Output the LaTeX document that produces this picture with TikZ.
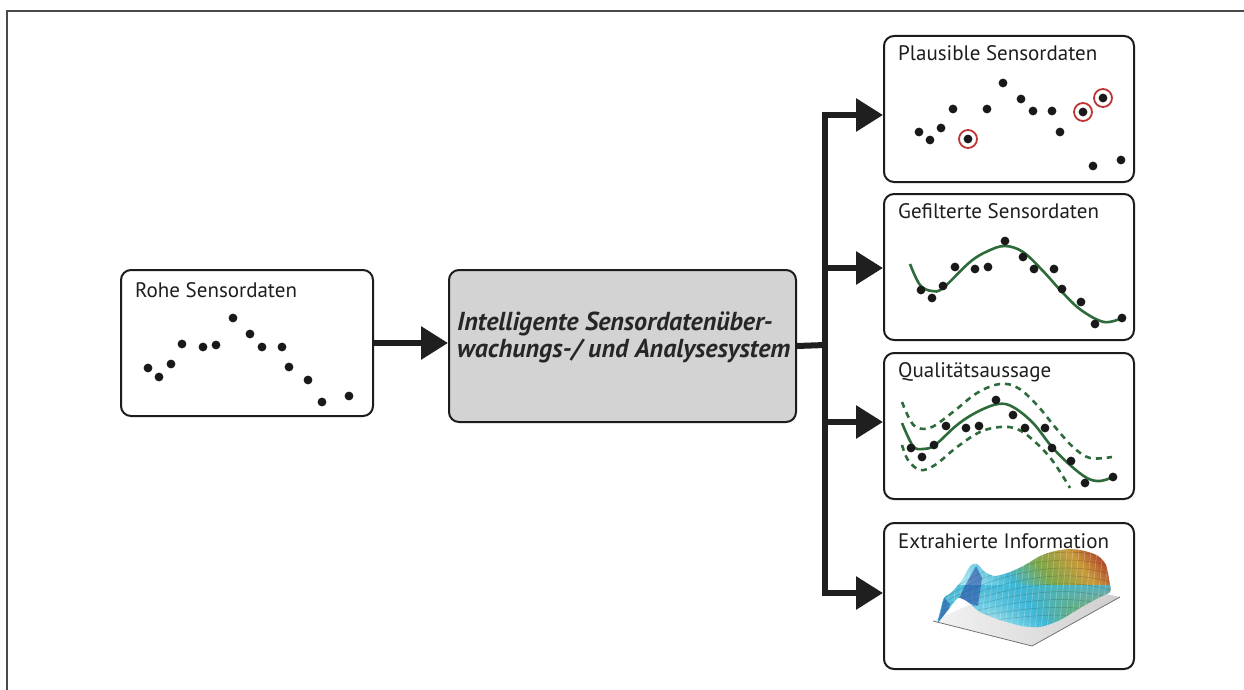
\documentclass[tikz,border=0pt]{standalone}
\usepackage{fontspec}
\usetikzlibrary{arrows.meta,calc,fadings}
\newfontfamily\lab{PT Sans}
\definecolor{boxline}{HTML}{1C1C1C}
\definecolor{txt}{HTML}{1E1E1E}
\definecolor{ctrfill}{HTML}{D3D3D3}
\definecolor{ctrtxt}{HTML}{262626}
\definecolor{fitgreen}{HTML}{2E6B3B}
\definecolor{ringred}{HTML}{BE3535}
\definecolor{frameline}{HTML}{4A4A4A}
\definecolor{sblue}{HTML}{1F3FA0}
\definecolor{scyan}{HTML}{3FB7D6}
\definecolor{slcyan}{HTML}{A8E6F0}
\definecolor{sgreen}{HTML}{7FA84A}
\definecolor{syellow}{HTML}{C99A3A}
\definecolor{sred}{HTML}{A82226}
\pgfdeclarehorizontalshading{surfcol}{100bp}{color(0bp)=(sblue); color(14bp)=(scyan); color(34bp)=(slcyan); color(48bp)=(scyan); color(60bp)=(sgreen); color(72bp)=(syellow); color(84bp)=(sred); color(100bp)=(sred)}
\begin{document}
\begin{tikzpicture}[x=1pt,y=-1pt,
  box/.style={draw=boxline, line width=2pt, rounded corners=10pt, fill=white, inner sep=0pt, anchor=north west},
  ttl/.style={anchor=base west, inner sep=0pt, font=\lab\fontsize{21}{24}\selectfont, text=txt},
  ctrline/.style={anchor=base west, inner sep=0pt, font=\lab\bfseries\itshape\fontsize{26}{30}\selectfont, text=ctrtxt},
  conn/.style={line width=6pt, draw=black!88},
  tip/.style={-{Triangle[length=27pt,width=32pt]}},
  dot/.style={fill=black!90},
  ring/.style={draw=ringred, line width=1.8pt},
  fitline/.style={draw=fitgreen, line width=2.6pt},
  band/.style={draw=fitgreen, line width=2.6pt, dash pattern=on 6pt off 5pt}
]
\useasboundingbox (0,0) rectangle (1244,690);
% outer frame (top and left rules only)
\draw[frameline, line width=1.5pt] (7,690) -- (7,11) -- (1244,11);

% boxes
\node[box, minimum width=252pt, minimum height=146pt] (rohe) at (120,269) {};
\node[box, fill=ctrfill, minimum width=347pt, minimum height=152pt] (ctr) at (448,269) {};
\node[box, minimum width=250pt, minimum height=146pt] (plaus) at (883,35) {};
\node[box, minimum width=250pt, minimum height=146pt] (filt) at (883,193) {};
\node[box, minimum width=250pt, minimum height=146pt] (qual) at (883,352) {};
\node[box, minimum width=250pt, minimum height=146pt] (extr) at (883,522) {};

% titles
\node[ttl] (rohe-t) at (135,297) {Rohe Sensordaten};
\node[ttl] (plaus-t) at (898,61) {Plausible Sensordaten};
\node[ttl] (filt-t) at (898,218) {Gefilterte Sensordaten};
\node[ttl] (qual-t) at (898,377) {Qualitätsaussage};
\node[ttl] (extr-t) at (898,548) {Extrahierte Information};

% system label in two lines
\node[ctrline] (ctr-a) at (457,330) {Intelligente Sensordatenüber-};
\node[ctrline] (ctr-b) at (457,357) {wachungs-/ und Analysesystem};

% connectors
\draw[conn,tip] (rohe.east) -- (ctr.west |- rohe.east);
\coordinate (j) at (825,345);
\draw[conn] (ctr.east) -- (j);
\foreach \t/\y in {plaus/115, filt/268, qual/422, extr/593}
  \draw[conn,tip] (j) |- (\t.west |- 0,\y);

% raw data
\foreach \p in {(148,368),(159,377),(171,364),(182,344),(203,347),(216,345),(233,318),(250,334),(262,347),(282,347),(289,367),(308,380),(322,402),(349,396)}
  \fill[dot] \p circle[radius=4.4pt];

% plausible data
\foreach \p in {(919,132),(930,140),(941,128),(953,109),(968,139),(987,109),(1003,83),(1021,99),(1033,111),(1052,111),(1060,132),(1083,112),(1103,98),(1093,166),(1121,160)}
  \fill[dot] \p circle[radius=4.4pt];
\foreach \p in {(968,139),(1083,112),(1103,98)}
  \draw[ring] \p circle[radius=9pt];

% filtered data
\draw[fitline] plot[smooth, tension=0.6] coordinates {(910,264) (920,285) (932,291) (943,288) (970,262) (988,251) (1005,246) (1023,252) (1043,271) (1062,292) (1081,310) (1104,322) (1122,318)};
\foreach \p in {(921,290),(932,298),(943,286),(955,267),(975,269),(988,267),(1005,241),(1023,257),(1034,269),(1054,269),(1062,289),(1081,302),(1095,324),(1122,318)}
  \fill[dot] \p circle[radius=4.4pt];

% quality band
\draw[band] plot[smooth, tension=0.6] coordinates {(902,402) (910,420) (918,428) (932,427) (953,412) (977,393) (1000,384) (1018,388) (1037,405) (1055,427) (1073,447) (1090,458) (1112,457)};
\draw[band] plot[smooth, tension=0.6] coordinates {(902,445) (908,460) (920,470) (935,465) (957,447) (980,432) (1000,427) (1017,429) (1033,440) (1052,460) (1070,488)};
\draw[fitline] plot[smooth, tension=0.6] coordinates {(902,423) (913,446) (923,449) (935,445) (957,425) (977,412) (998,404) (1013,407) (1033,423) (1052,447) (1070,465) (1087,478) (1100,481) (1113,477)};
\foreach \p in {(911,448),(922,457),(934,445),(946,426),(966,428),(979,426),(996,400),(1013,415),(1025,428),(1045,428),(1052,448),(1071,461),(1085,483),(1113,477)}
  \fill[dot] \p circle[radius=4.4pt];

% extracted information: surface over a base plate
\shade[left color=gray!10, right color=gray!38] (933,621) -- (1032,646) -- (1120,597) -- (1030,578) -- cycle;
\draw[black!55, line width=0.8pt] (933,621) -- (1032,646) -- (1120,597);
\def\surf{plot[smooth cycle, tension=0.45] coordinates {(938,622) (948,610) (958,598) (968,602) (980,612) (1000,620) (1022,626) (1040,627) (1060,620) (1080,608) (1098,598) (1110,592) (1110,585) (1106,565) (1098,556) (1085,551) (1070,549) (1055,551) (1040,556) (1025,565) (1010,572) (995,576) (985,572) (977,564) (970,566) (962,580) (952,592) (944,598) (940,612)}}
\shade[shading=surfcol, shading angle=38] \surf;
\begin{scope}
  \clip \surf;
  % cyan front face fading upwards
  \fill[scyan, path fading=south, opacity=0.85] (930,585) rectangle (1120,632);
  \foreach \x in {936,942,...,1116}
    \draw[white, opacity=0.35, line width=0.5pt] (\x,540) -- (\x-10,640);
  \foreach \d in {0,8,...,64}
    \draw[black, opacity=0.18, line width=0.5pt] (936,600+\d*0.4) .. controls (990,560+\d) and (1060,540+\d) .. (1116,560+\d);
  \fill[sblue, opacity=0.55] (958,600) -- (966,584) -- (976,566) -- (982,578) -- (978,606) -- cycle;
  \fill[sblue, opacity=0.5] (938,622) -- (944,598) -- (950,604) -- (946,620) -- cycle;
\end{scope}
\end{tikzpicture}
\end{document}
